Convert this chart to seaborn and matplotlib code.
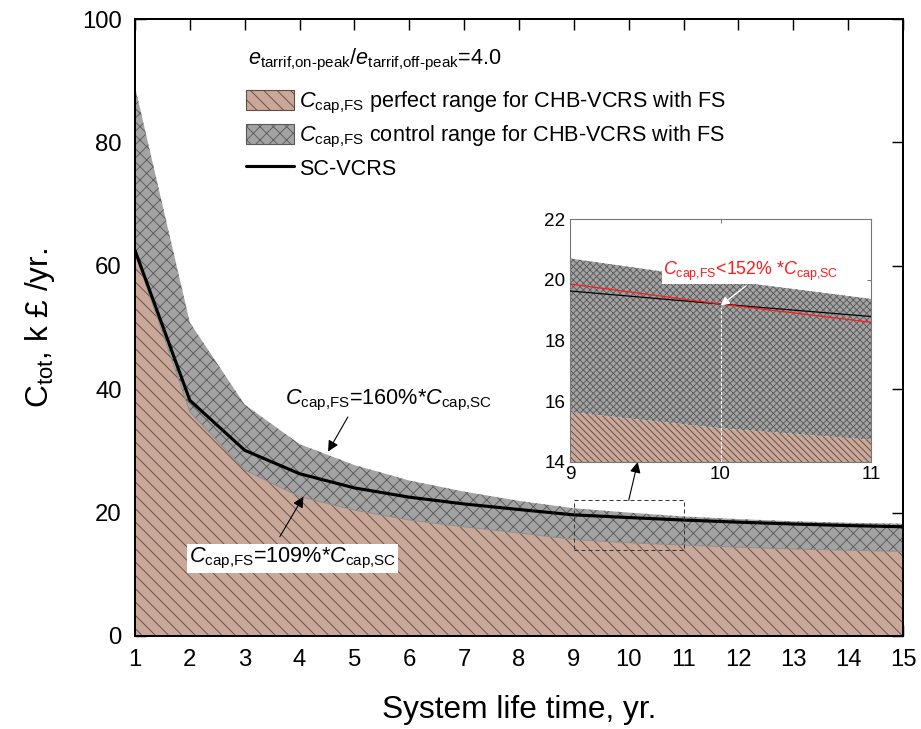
import seaborn as sns
import matplotlib.pyplot as plt
import matplotlib.patches as mpatches
from matplotlib.lines import Line2D
import pandas as pd

# data
years = [1, 2, 3, 4, 5, 6, 7, 8, 9, 10, 11, 12, 13, 14, 15]
sc_vcrs = [62.5, 38.2, 30.1, 26.3, 24.0, 22.5, 21.4, 20.5, 19.63, 19.2, 18.79, 18.45, 18.15, 17.9, 17.7]
upper_160 = [89.0, 50.8, 37.5, 31.1, 27.7, 25.2, 23.4, 21.9, 20.7, 20.0, 19.37, 18.95, 18.6, 18.35, 18.2]
lower_109 = [62.0, 36.3, 26.9, 22.6, 20.4, 18.8, 17.7, 16.7, 15.64, 15.11, 14.73, 14.4, 14.1, 13.9, 13.7]
zoom_years = [9, 10, 11]
limit_152 = [19.86, 19.2, 18.6]

BROWN = '#c9a899'
BROWN_HATCH = '#5e4c45'
GREY = '#a3a3a3'
GREY_HATCH = '#5a5a5a'

sns.set_theme(style='ticks')
plt.rcParams['font.family'] = ['Liberation Sans', 'DejaVu Sans']
plt.rcParams['mathtext.fontset'] = 'custom'
plt.rcParams['mathtext.rm'] = 'Liberation Sans'
plt.rcParams['mathtext.it'] = 'Liberation Sans:italic'
plt.rcParams['hatch.linewidth'] = 0.8
for k in ['text.color', 'axes.labelcolor', 'xtick.color', 'ytick.color',
          'xtick.labelcolor', 'ytick.labelcolor']:
    plt.rcParams[k] = 'black'

df = pd.DataFrame({'year': years, 'sc': sc_vcrs, 'up': upper_160, 'low': lower_109})
dz = df[df['year'].isin(zoom_years)].copy()
dz['red'] = limit_152

fig = plt.figure(figsize=(921 / 80, 729 / 80), dpi=80)
ax = fig.add_axes([135 / 921, 1 - 636 / 729, 768 / 921, 617 / 729])

ax.fill_between(df['year'], 0, df['low'], facecolor=BROWN, edgecolor=BROWN_HATCH,
                hatch='\\\\', linewidth=0, zorder=1)
ax.fill_between(df['year'], df['low'], df['up'], facecolor=GREY, edgecolor=GREY_HATCH,
                hatch='xx', linewidth=0, zorder=1)
ax.plot(df['year'], df['low'], color='#8a8a8a', lw=0.8, zorder=2)
sns.lineplot(data=df, x='year', y='sc', color='black', lw=2.8, ax=ax, zorder=3)

ax.set_xlim(1, 15)
ax.set_ylim(0, 100)
ax.set_xticks(years)
ax.set_yticks([0, 20, 40, 60, 80, 100])
ax.tick_params(direction='in', length=10, width=1.3, labelsize=21.5, pad=12,
               top=True, right=True, colors='black')
for s in ax.spines.values():
    s.set_linewidth(1.8)
    s.set_color('black')
ax.set_xlabel('System life time, yr.', fontsize=28.5, labelpad=21)
ax.set_ylabel(r'C$_{\mathrm{tot}}$, k £ /yr.', fontsize=28.5, labelpad=22)

# legend (title drawn as separate text)
ax.text(0.147, 0.9335,
        r'$e_{\mathrm{tarrif{,}on\text{-}peak}}/e_{\mathrm{tarrif{,}off\text{-}peak}}$=4.0',
        transform=ax.transAxes, fontsize=19.5, ha='left', va='center')
handles = [
    mpatches.Patch(facecolor=BROWN, edgecolor=BROWN_HATCH, hatch='\\\\', lw=1),
    mpatches.Patch(facecolor=GREY, edgecolor=GREY_HATCH, hatch='xx', lw=1),
    Line2D([], [], color='black', lw=2.8),
]
labels = [r'$C_{\mathrm{cap{,}FS}}$ perfect range for CHB-VCRS with FS',
          r'$C_{\mathrm{cap{,}FS}}$ control range for CHB-VCRS with FS',
          'SC-VCRS']
leg = ax.legend(handles, labels, loc='upper left', bbox_to_anchor=(0.125, 0.91),
                frameon=False, fontsize=19.5, handlelength=2.2, handleheight=1.1,
                handletextpad=0.25, labelspacing=0.35, borderpad=0.2)

# annotations on the main plot
arrow = dict(arrowstyle='-|>', color='black', lw=1, mutation_scale=20, shrinkA=0, shrinkB=0)
ax.text(3.73, 38.2, r'$C_{\mathrm{cap{,}FS}}$=160%*$C_{\mathrm{cap{,}SC}}$',
        fontsize=19.5, va='center', ha='left', zorder=5)
ax.annotate('', xy=(4.52, 29.9), xytext=(4.88, 35.5), arrowprops=arrow, zorder=5)
ax.annotate('', xy=(4.07, 22.6), xytext=(3.64, 16.1), arrowprops=arrow, zorder=5)
ax.text(1.98, 12.6, r'$C_{\mathrm{cap{,}FS}}$=109%*$C_{\mathrm{cap{,}SC}}$', fontsize=19.5,
        va='center', ha='left', zorder=5,
        bbox=dict(facecolor='white', edgecolor='none', pad=2))

# dashed box for zoom region
ax.add_patch(mpatches.Rectangle((9, 14), 2, 8, fill=False, ls=(0, (4, 3)), lw=0.9,
                                edgecolor='#333333', zorder=4))

# inset
axins = fig.add_axes([570 / 921, 1 - 462 / 729, 301 / 921, 243 / 729])
axins.fill_between(dz['year'], 14, dz['low'], facecolor=BROWN, edgecolor=BROWN_HATCH,
                   hatch='\\\\\\\\', linewidth=0, zorder=1)
axins.fill_between(dz['year'], dz['low'], dz['up'], facecolor=GREY, edgecolor=GREY_HATCH,
                   hatch='xxxx', linewidth=0, zorder=1)
sns.lineplot(data=dz, x='year', y='sc', color='black', lw=1.1, ax=axins, zorder=3)
sns.lineplot(data=dz, x='year', y='red', color='#ff1a1a', lw=1.1, ax=axins, zorder=3)
axins.plot([10, 10], [14, 19.1], color='white', lw=0.9, ls=(0, (3, 1.5)), zorder=4)
axins.annotate('', xy=(10.0, 19.15), xytext=(10.17, 19.8),
               arrowprops=dict(arrowstyle='-|>', color='white', lw=1.2, mutation_scale=16,
                               shrinkA=0, shrinkB=0), zorder=4)
axins.text(9.62, 20.27, r'$C_{\mathrm{cap{,}FS}}$<152% *$C_{\mathrm{cap{,}SC}}$', color='#ff1a1a',
           fontsize=16, va='center', ha='left', zorder=5,
           bbox=dict(facecolor='white', edgecolor='none', pad=1))
axins.set_xlim(9, 11)
axins.set_ylim(14, 22)
axins.set_xticks(zoom_years)
axins.set_yticks([14, 16, 18, 20, 22])
axins.set_xlabel('')
axins.set_ylabel('')
axins.tick_params(direction='in', length=4, width=0.8, labelsize=17, pad=4,
                  top=True, right=True, color='#666666', labelcolor='black')
for s in axins.spines.values():
    s.set_linewidth(1.0)
    s.set_color('#777777')

ax.annotate('', xy=(9.45, 14), xycoords=axins.transData, xytext=(10, 22),
            textcoords=ax.transData, arrowprops=arrow, zorder=5)

fig.savefig('out.png', dpi=80)
